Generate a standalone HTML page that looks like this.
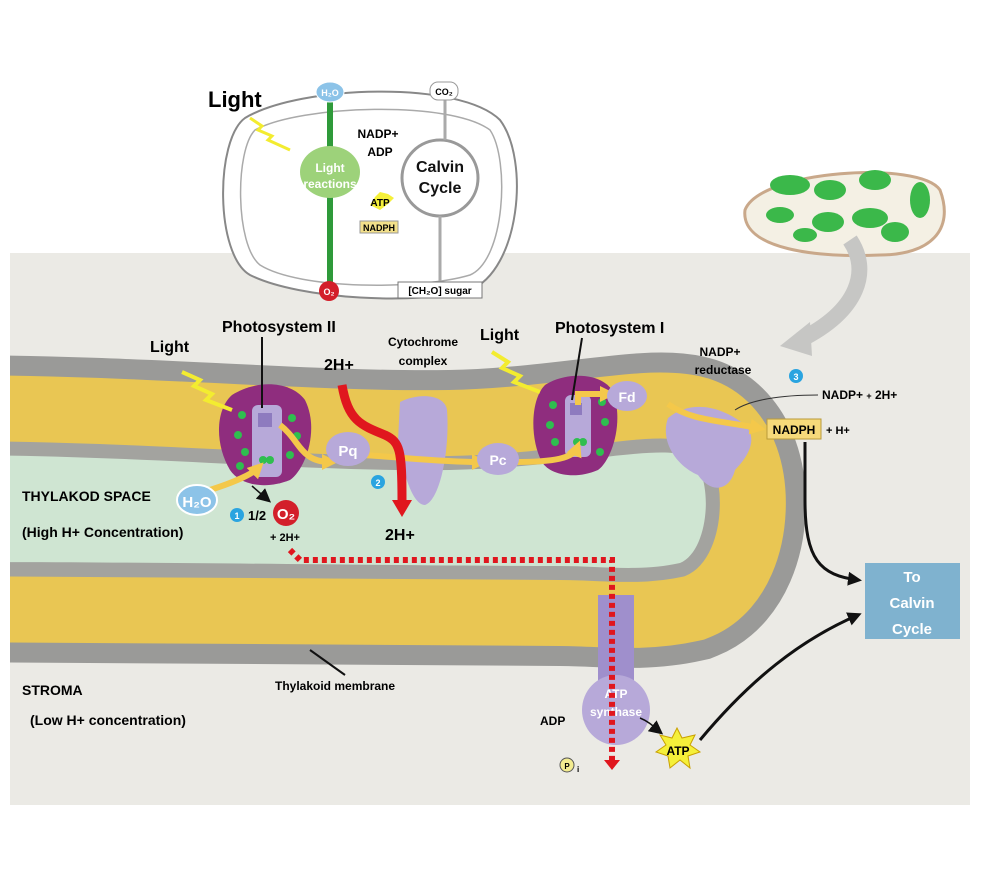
<!DOCTYPE html>
<html><head><meta charset="utf-8"><style>
body{margin:0;background:#fff;}
svg{display:block;}
text{font-family:"Liberation Sans",sans-serif;font-weight:bold;}
</style></head><body>
<svg width="1000" height="871" viewBox="0 0 1000 871" xmlns="http://www.w3.org/2000/svg">
<defs>
<clipPath id="pc"><rect x="10" y="253" width="960" height="552"/></clipPath>
<marker id="ay" markerUnits="userSpaceOnUse" markerWidth="16" markerHeight="16" refX="8" refY="8" orient="auto"><path d="M0,0L16,8L0,16Z" fill="#f4c84a"/></marker>
<marker id="ab" markerUnits="userSpaceOnUse" markerWidth="14" markerHeight="14" refX="10" refY="7" orient="auto"><path d="M0,0L14,7L0,14Z" fill="#111"/></marker>
</defs>
<rect x="10" y="253" width="960" height="552" fill="#ebeae5"/>
<g clip-path="url(#pc)" fill="none">
<path d="M-60,455 C150,455 300,472 450,470 C560,468 650,445 685,455 C715,465 712,550 680,563 C640,572 600,566 560,566 C400,566 200,562 -60,562 Z" stroke="#9a9a98" stroke-width="200"/>
<path d="M-60,455 C150,455 300,472 450,470 C560,468 650,445 685,455 C715,465 712,550 680,563 C640,572 600,566 560,566 C400,566 200,562 -60,562 Z" stroke="#e9c653" stroke-width="160"/>
<path d="M-60,455 C150,455 300,472 450,470 C560,468 650,445 685,455 C715,465 712,550 680,563 C640,572 600,566 560,566 C400,566 200,562 -60,562 Z" stroke="#a3a39f" stroke-width="28"/>
<path d="M-60,455 C150,455 300,472 450,470 C560,468 650,445 685,455 C715,465 712,550 680,563 C640,572 600,566 560,566 C400,566 200,562 -60,562 Z" fill="#cfe5d2"/>
</g>
<!-- top inset chloroplast -->
<path d="M245,118 C300,85 460,80 500,120 C530,160 520,270 470,290 C420,305 300,300 250,275 C215,255 215,140 245,118Z" fill="#fff" stroke="#888" stroke-width="2"/>
<path d="M255,130 C300,105 450,100 490,130 C510,160 505,260 470,275 C420,290 300,290 260,265 C235,245 235,150 255,130Z" fill="none" stroke="#aaa" stroke-width="1.5"/>
<line x1="330" y1="95" x2="330" y2="285" stroke="#2f9a3a" stroke-width="6"/>
<ellipse cx="330" cy="92" rx="14" ry="10" fill="#8cc3e8" stroke="#fff"/><text x="330" y="96" font-size="9" fill="#fff" text-anchor="middle">H₂O</text>
<circle cx="329" cy="291" r="10" fill="#d31f2a"/><text x="329" y="295" font-size="9" fill="#fff" text-anchor="middle">O₂</text>
<ellipse cx="330" cy="172" rx="30" ry="26" fill="#9dd27a"/>
<text x="330" y="172" font-size="12" fill="#fff" text-anchor="middle">Light</text><text x="330" y="188" font-size="12" fill="#fff" text-anchor="middle">reactions</text>
<circle cx="440" cy="178" r="38" fill="#fff" stroke="#999" stroke-width="3"/>
<text x="440" y="172" font-size="16" fill="#111" text-anchor="middle">Calvin</text><text x="440" y="193" font-size="16" fill="#111" text-anchor="middle">Cycle</text>
<line x1="445" y1="100" x2="445" y2="140" stroke="#aaa" stroke-width="3"/>
<line x1="440" y1="216" x2="440" y2="282" stroke="#aaa" stroke-width="3"/>
<rect x="430" y="82" width="28" height="18" rx="8" fill="#fff" stroke="#999"/><text x="444" y="95" font-size="9" text-anchor="middle">CO₂</text>
<rect x="398" y="282" width="84" height="16" fill="#fff" stroke="#777"/><text x="440" y="294" font-size="10" text-anchor="middle">[CH₂O] sugar</text>
<text x="378" y="138" font-size="12" text-anchor="middle">NADP+</text><text x="380" y="156" font-size="12" text-anchor="middle">ADP</text>
<polygon points="375,197 380,192 388,194 394,198 388,204 380,210 370,205" fill="#f5f03a"/><text x="380" y="206" font-size="10" text-anchor="middle">ATP</text>
<rect x="360" y="221" width="38" height="12" fill="#f3e08a" stroke="#999"/><text x="379" y="231" font-size="9" text-anchor="middle">NADPH</text>
<text x="208" y="107" font-size="22">Light</text>
<polyline points="250,118 262,126 258,130 272,136 268,140 290,150" fill="none" stroke="#f3ec30" stroke-width="3"/>
<!-- top right chloroplast -->
<path d="M745,210 C760,170 920,160 940,190 C955,230 930,255 880,255 C820,258 740,250 745,210Z" fill="#f4f0e4" stroke="#c9a88a" stroke-width="3"/>
<g fill="#3bb84a"><ellipse cx="790" cy="185" rx="20" ry="10"/><ellipse cx="830" cy="190" rx="16" ry="10"/><ellipse cx="875" cy="180" rx="16" ry="10"/><ellipse cx="920" cy="200" rx="10" ry="18"/><ellipse cx="780" cy="215" rx="14" ry="8"/><ellipse cx="828" cy="222" rx="16" ry="10"/><ellipse cx="870" cy="218" rx="18" ry="10"/><ellipse cx="895" cy="232" rx="14" ry="10"/><ellipse cx="805" cy="235" rx="12" ry="7"/></g>
<path d="M850,240 C870,270 860,310 800,340" fill="none" stroke="#c6c6c4" stroke-width="16"/>
<polygon points="780,346 810,322 812,356" fill="#c6c6c4"/>
<!-- PSII -->
<path d="M232,395 C255,380 290,380 305,400 C320,430 305,470 290,480 C265,490 240,485 230,470 C215,445 215,410 232,395Z" fill="#8f2d7e"/>
<rect x="252" y="405" width="30" height="72" rx="6" fill="#b7a9d9"/>
<rect x="258" y="413" width="14" height="14" fill="#8e7bbf"/>
<g fill="#2fbe4f"><circle cx="242" cy="415" r="4"/><circle cx="238" cy="435" r="4"/><circle cx="245" cy="452" r="4"/><circle cx="240" cy="466" r="4"/><circle cx="292" cy="418" r="4"/><circle cx="297" cy="436" r="4"/><circle cx="290" cy="455" r="4"/><circle cx="263" cy="460" r="4"/><circle cx="270" cy="460" r="4"/></g>
<!-- PSI -->
<path d="M545,385 C565,372 600,372 612,390 C625,420 612,460 598,470 C575,480 550,475 542,462 C530,440 530,400 545,385Z" fill="#8f2d7e"/>
<rect x="565" y="395" width="26" height="62" rx="6" fill="#b7a9d9"/>
<rect x="570" y="403" width="12" height="12" fill="#8e7bbf"/>
<g fill="#2fbe4f"><circle cx="553" cy="405" r="4"/><circle cx="550" cy="425" r="4"/><circle cx="555" cy="442" r="4"/><circle cx="602" cy="402" r="4"/><circle cx="605" cy="422" r="4"/><circle cx="600" cy="452" r="4"/><circle cx="577" cy="442" r="4"/><circle cx="583" cy="442" r="4"/></g>
<!-- cytochrome -->
<path d="M400,402 C420,392 445,395 447,410 C450,450 440,500 425,505 C412,505 402,470 398,440Z" fill="#b7a9d9"/>
<!-- NADP reductase -->
<path d="M668,418 C690,400 720,405 745,425 C760,440 745,460 735,470 C730,490 712,495 698,475 C675,465 660,440 668,418Z" fill="#b7a9d9"/>
<!-- ATP synthase -->
<rect x="598" y="595" width="36" height="95" fill="#9f8fcc"/>
<ellipse cx="616" cy="710" rx="34" ry="35" fill="#b7a9d9"/>
<!-- electron flow -->
<g fill="none" stroke="#f4c84a" stroke-width="6" marker-end="url(#ay)">
<path d="M210,490 C235,482 252,474 258,468"/>
<path d="M280,425 C300,440 300,462 330,462"/>
<path d="M362,455 C400,457 440,462 480,462"/>
<path d="M515,462 C555,462 573,458 577,448"/>
<path d="M578,405 L578,394 L608,394"/>
<path d="M668,404 C690,420 715,420 758,428"/>
</g>
<!-- Pq Pc Fd -->
<ellipse cx="348" cy="449" rx="22" ry="17" fill="#b7a9d9"/><text x="348" y="456" font-size="15" fill="#fff" text-anchor="middle">Pq</text>
<ellipse cx="498" cy="459" rx="21" ry="16" fill="#b7a9d9"/><text x="498" y="465" font-size="14" fill="#fff" text-anchor="middle">Pc</text>
<ellipse cx="627" cy="396" rx="20" ry="15" fill="#b7a9d9"/><text x="627" y="402" font-size="14" fill="#fff" text-anchor="middle">Fd</text>
<!-- red H+ -->
<path d="M342,385 C348,420 360,425 385,435 C400,442 402,450 402,500" fill="none" stroke="#e0161e" stroke-width="9"/>
<polygon points="392,500 412,500 402,517" fill="#e0161e"/>
<text x="616" y="698" font-size="12" fill="#fff" text-anchor="middle">ATP</text><text x="616" y="716" font-size="12" fill="#fff" text-anchor="middle">synthase</text>
<path d="M290,550 L300,560 L400,560 L612,560 L612,760" fill="none" stroke="#e0161e" stroke-width="6" stroke-dasharray="5,4"/>
<polygon points="604,760 620,760 612,770" fill="#e0161e"/>
<!-- H2O, O2 -->
<ellipse cx="197" cy="500" rx="20" ry="15" fill="#8cc3e8" stroke="#fff" stroke-width="2"/><text x="197" y="507" font-size="15" fill="#fff" text-anchor="middle">H₂O</text>
<circle cx="286" cy="513" r="13" fill="#d31f2a"/><text x="286" y="519" font-size="15" fill="#fff" text-anchor="middle">O₂</text>
<line x1="252" y1="486" x2="268" y2="500" stroke="#111" stroke-width="1.5" marker-end="url(#ab)"/>
<circle cx="237" cy="515" r="7" fill="#2aa4e0"/><text x="237" y="519" font-size="9" fill="#fff" text-anchor="middle">1</text>
<text x="248" y="520" font-size="13">1/2</text>
<text x="270" y="541" font-size="11">+ 2H+</text>
<circle cx="378" cy="482" r="7" fill="#2aa4e0"/><text x="378" y="486" font-size="9" fill="#fff" text-anchor="middle">2</text>
<circle cx="796" cy="376" r="7" fill="#2aa4e0"/><text x="796" y="380" font-size="9" fill="#fff" text-anchor="middle">3</text>
<!-- lights -->
<polyline points="182,372 200,380 194,386 212,394 206,400 232,410" fill="none" stroke="#f3ec30" stroke-width="4"/>
<polyline points="492,352 508,362 502,368 520,376 514,382 540,392" fill="none" stroke="#f3ec30" stroke-width="4"/>
<!-- labels -->
<text x="150" y="352" font-size="16">Light</text>
<text x="222" y="332" font-size="16">Photosystem II</text>
<line x1="262" y1="337" x2="262" y2="408" stroke="#111" stroke-width="2"/>
<text x="324" y="370" font-size="16">2H+</text>
<text x="423" y="346" font-size="12" text-anchor="middle">Cytochrome</text><text x="423" y="365" font-size="12" text-anchor="middle">complex</text>
<text x="480" y="340" font-size="16">Light</text>
<text x="555" y="333" font-size="16">Photosystem I</text>
<line x1="582" y1="338" x2="572" y2="400" stroke="#111" stroke-width="2"/>
<text x="720" y="356" font-size="12" text-anchor="middle">NADP+</text><text x="723" y="374" font-size="12" text-anchor="middle">reductase</text>
<text x="822" y="399" font-size="12">NADP+ <tspan font-size="9">+</tspan> 2H+</text>
<path d="M818,395 C780,395 750,400 735,410" fill="none" stroke="#333" stroke-width="1"/>
<rect x="767" y="419" width="54" height="20" fill="#f6d97a" stroke="#b99a3a"/><text x="794" y="434" font-size="12" text-anchor="middle">NADPH</text>
<text x="826" y="434" font-size="11">+ H+</text>
<text x="385" y="540" font-size="16">2H+</text>
<text x="22" y="501" font-size="14">THYLAKOD SPACE</text>
<text x="22" y="537" font-size="14">(High H+ Concentration)</text>
<text x="22" y="695" font-size="14">STROMA</text>
<text x="30" y="725" font-size="14">(Low H+ concentration)</text>
<text x="275" y="690" font-size="12">Thylakoid membrane</text>
<line x1="310" y1="650" x2="345" y2="675" stroke="#111" stroke-width="2"/>
<text x="540" y="725" font-size="12">ADP</text>
<circle cx="567" cy="765" r="7" fill="#f3ec90" stroke="#555"/><text x="567" y="769" font-size="8" text-anchor="middle">P</text><text x="577" y="772" font-size="8">i</text>
<path d="M640,718 C650,722 655,728 660,732" fill="none" stroke="#111" stroke-width="1.5" marker-end="url(#ab)"/>
<polygon points="677,728 682,738 695,735 690,745 700,752 688,756 690,768 680,760 670,768 668,756 656,752 666,745 660,735 672,738" fill="#f5f03a" stroke="#c9a100"/>
<text x="678" y="755" font-size="12" text-anchor="middle">ATP</text>
<path d="M700,740 C750,680 800,640 858,615" fill="none" stroke="#111" stroke-width="3" marker-end="url(#ab)"/>
<path d="M805,442 L805,500 C805,560 820,575 858,580" fill="none" stroke="#111" stroke-width="3" marker-end="url(#ab)"/>
<rect x="865" y="563" width="95" height="76" fill="#7fb2cf"/>
<text x="912" y="582" font-size="15" fill="#fff" text-anchor="middle">To</text>
<text x="912" y="608" font-size="15" fill="#fff" text-anchor="middle">Calvin</text>
<text x="912" y="634" font-size="15" fill="#fff" text-anchor="middle">Cycle</text>
</svg>
</body></html>
